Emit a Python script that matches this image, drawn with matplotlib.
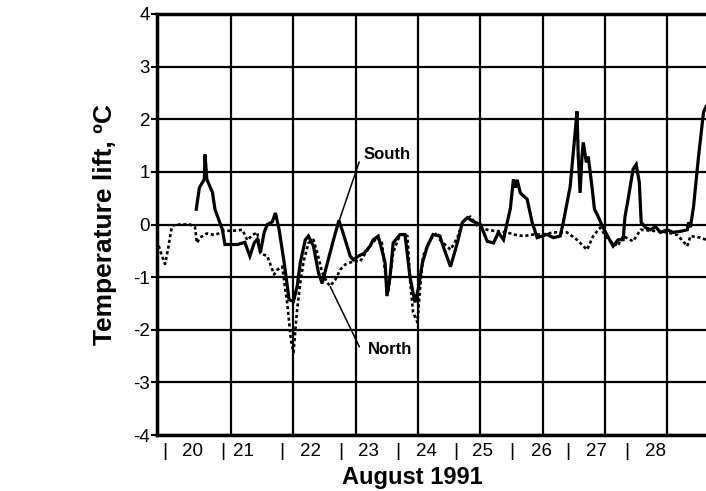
import matplotlib
matplotlib.use('Agg')
import matplotlib.pyplot as plt

# --- Data, x = day of August 1991 ---
south_day = [20.44, 20.49, 20.57, 20.58, 20.61, 20.70, 20.74, 20.81, 20.86, 20.90,
             21.10, 21.22, 21.30, 21.37, 21.42, 21.47, 21.53, 21.58, 21.66, 21.71,
             21.77, 21.85, 21.93, 22.00, 22.06, 22.11, 22.19, 22.24, 22.32, 22.40,
             22.46, 22.54, 22.64, 22.73, 22.83, 22.91, 22.96, 23.04, 23.13, 23.23,
             23.28, 23.36, 23.47, 23.50, 23.55, 23.60, 23.71, 23.79, 23.87, 23.95,
             24.00, 24.07, 24.15, 24.24, 24.35, 24.40, 24.52, 24.63, 24.71, 24.79,
             24.88, 25.00, 25.11, 25.21, 25.29, 25.37, 25.43, 25.48, 25.53, 25.56,
             25.59, 25.64, 25.75, 25.83, 25.91, 26.07, 26.17, 26.28, 26.33, 26.44,
             26.52, 26.55, 26.57, 26.60, 26.63, 26.65, 26.70, 26.73, 26.79, 26.83,
             26.89, 26.96, 27.04, 27.13, 27.21, 27.29, 27.32, 27.37, 27.45, 27.50,
             27.55, 27.58, 27.65, 27.73, 27.81, 27.89, 28.00, 28.09, 28.21, 28.32,
             28.34, 28.37, 28.42, 28.50, 28.58, 28.62]
south_lift = [0.29, 0.70, 0.86, 1.33, 0.86, 0.61, 0.29, 0.06, -0.10, -0.38,
              -0.38, -0.34, -0.60, -0.35, -0.28, -0.53, -0.15, 0.00, 0.05, 0.22,
              -0.10, -0.72, -1.43, -1.46, -1.17, -0.72, -0.29, -0.22, -0.41, -0.91,
              -1.12, -0.75, -0.30, 0.08, -0.29, -0.60, -0.67, -0.60, -0.55, -0.41,
              -0.29, -0.22, -0.72, -1.36, -0.99, -0.35, -0.19, -0.19, -1.00, -1.48,
              -1.24, -0.72, -0.41, -0.19, -0.22, -0.41, -0.80, -0.35, 0.04, 0.13,
              0.06, 0.00, -0.32, -0.35, -0.15, -0.29, 0.04, 0.30, 0.86, 0.70,
              0.85, 0.60, 0.48, 0.04, -0.25, -0.19, -0.25, -0.22, 0.04, 0.72,
              1.75, 2.15, 1.29, 0.60, 1.30, 1.56, 1.18, 1.29, 0.72, 0.29,
              0.15, -0.04, -0.22, -0.41, -0.29, -0.29, 0.15, 0.48, 1.05, 1.14,
              0.80, 0.04, -0.06, -0.10, -0.04, -0.15, -0.10, -0.15, -0.13, -0.10,
              0.04, -0.05, 0.34, 1.29, 2.13, 2.24]

north_day = [19.81, 19.89, 19.94, 19.99, 20.05, 20.18, 20.34, 20.42, 20.45, 20.50,
             20.61, 20.74, 20.89, 21.02, 21.18, 21.26, 21.34, 21.42, 21.47, 21.58,
             21.69, 21.74, 21.82, 21.90, 21.96, 22.00, 22.06, 22.11, 22.16, 22.24,
             22.32, 22.38, 22.46, 22.54, 22.59, 22.67, 22.75, 22.83, 22.96, 23.07,
             23.23, 23.34, 23.42, 23.49, 23.52, 23.60, 23.71, 23.83, 23.87, 23.92,
             23.99, 24.03, 24.08, 24.19, 24.31, 24.35, 24.52, 24.63, 24.72, 24.84,
             24.96, 25.11, 25.27, 25.43, 25.53, 25.69, 25.85, 26.01, 26.17, 26.39,
             26.55, 26.71, 26.81, 26.92, 27.05, 27.20, 27.29, 27.45, 27.57, 27.77,
             28.00, 28.16, 28.32, 28.37, 28.53, 28.62]
north_lift = [-0.30, -0.60, -0.75, -0.45, -0.02, 0.00, 0.00, -0.05, -0.35, -0.25,
              -0.17, -0.20, -0.12, -0.12, -0.10, -0.30, -0.20, -0.15, -0.55, -0.60,
              -0.95, -0.86, -0.80, -1.50, -2.20, -2.43, -1.60, -1.10, -0.72, -0.35,
              -0.29, -0.53, -0.91, -1.10, -1.17, -1.05, -0.86, -0.76, -0.70, -0.70,
              -0.41, -0.25, -0.35, -1.10, -1.29, -0.53, -0.19, -0.22, -1.05, -1.67,
              -1.86, -1.24, -0.60, -0.29, -0.15, -0.29, -0.48, -0.25, 0.06, 0.15,
              -0.04, -0.10, -0.13, -0.15, -0.19, -0.22, -0.19, -0.19, -0.15, -0.15,
              -0.29, -0.48, -0.22, -0.06, -0.29, -0.41, -0.22, -0.32, -0.10, -0.12,
              -0.15, -0.20, -0.41, -0.22, -0.25, -0.29]

day_bounds = [21, 22, 23, 24, 25, 26, 27, 28]
day_labels = ['20', '21', '22', '23', '24', '25', '26', '27', '28']
# where the scanned labels and their little bars sit (they drift off the grid)
label_pos = [20.38, 21.20, 22.28, 23.20, 24.13, 25.04, 25.98, 26.86, 27.81]
bar_pos = [19.94, 20.87, 21.81, 22.76, 23.68, 24.60, 25.51, 26.41, 27.35]
y_vals = [4, 3, 2, 1, 0, -1, -2, -3, -4]

plt.rcParams['font.family'] = ['Liberation Sans', 'DejaVu Sans']

fig = plt.figure(figsize=(7.06, 4.91), dpi=100)
ax = fig.add_axes([157 / 706, 56 / 491, 549 / 706, 421 / 491])

ax.plot(north_day, north_lift, color='black', lw=1.9, ls=(0, (1.2, 1.0)))
ax.plot(south_day, south_lift, color='black', lw=2.3, solid_joinstyle='miter')

ax.set_xlim(19.81, 28.62)
ax.set_ylim(-4, 4)

# grid: horizontal at each degree, vertical at each day boundary
ax.set_yticks(y_vals, labels=[str(v) for v in y_vals])
ax.set_xticks(day_bounds, labels=[''] * len(day_bounds))
ax.set_xticks(label_pos, labels=day_labels, minor=True)
ax.grid(True, which='major', color='black', lw=1.6)
ax.tick_params(axis='x', which='both', length=0, labelsize=13.5, pad=6)
ax.tick_params(axis='y', length=4, width=1.5, labelsize=13.5, pad=1)

sec = ax.secondary_xaxis('bottom')
sec.set_xticks(bar_pos, labels=['|'] * len(bar_pos))
sec.tick_params(length=0, labelsize=14, pad=6)
for s in sec.spines.values():
    s.set_visible(False)

for side in ['left', 'top', 'bottom']:
    ax.spines[side].set_linewidth(2.5)
ax.spines['right'].set_visible(False)

ax.set_ylabel('Temperature lift, ºC', fontsize=19, fontweight='bold', labelpad=12)
ax.set_xlabel('August 1991', fontsize=17, fontweight='bold')
ax.xaxis.set_label_coords(0.466, -0.074)

ax.annotate('South', xy=(22.73, 0.06), xytext=(23.13, 1.33),
            fontsize=12, fontweight='bold', va='center', ha='left',
            arrowprops=dict(arrowstyle='-', color='black', lw=1.1,
                            shrinkA=0, shrinkB=0, relpos=(-0.1, 0.0)))
ax.annotate('North', xy=(22.59, -1.18), xytext=(23.20, -2.38),
            fontsize=12, fontweight='bold', va='center', ha='left',
            arrowprops=dict(arrowstyle='-', color='black', lw=1.1,
                            shrinkA=0, shrinkB=0, relpos=(-0.2, 0.7)))

fig.savefig('out.png', dpi=100)
